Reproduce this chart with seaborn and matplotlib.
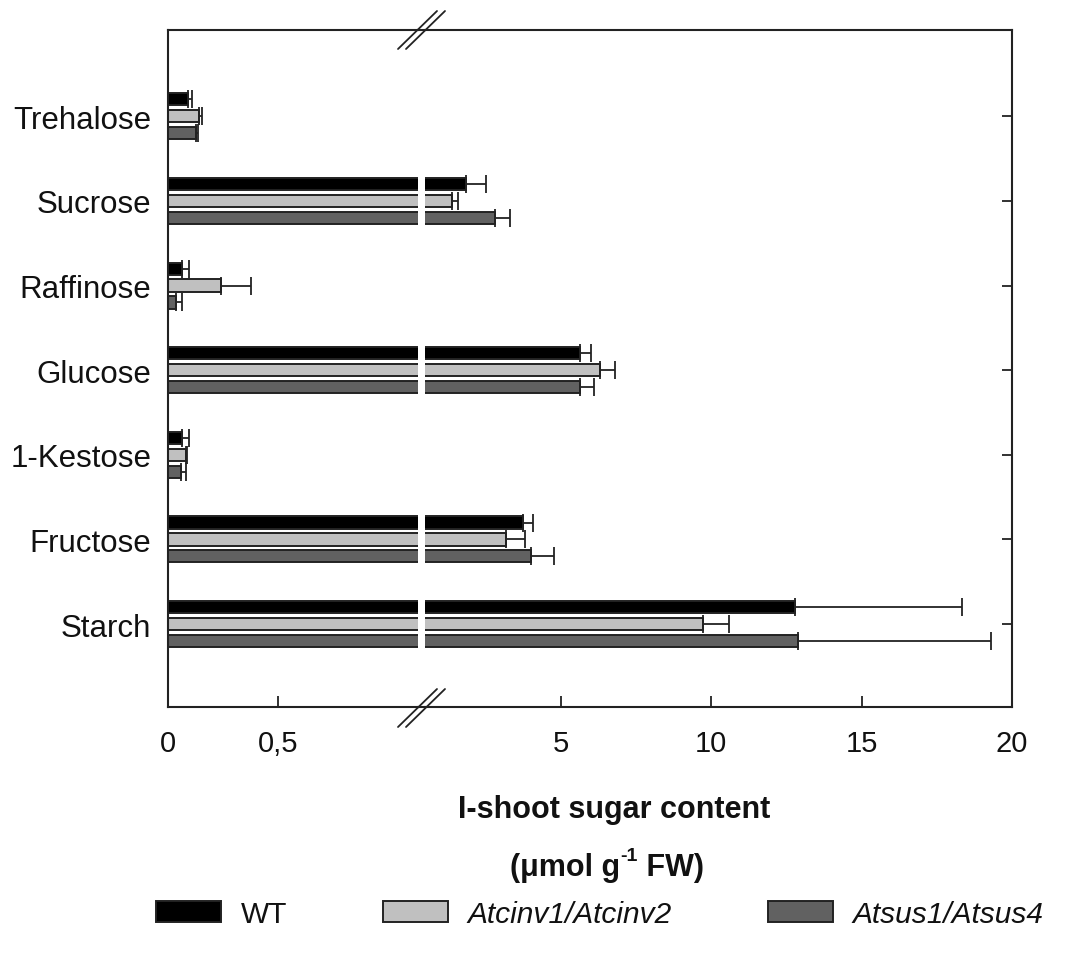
import numpy as np
import pandas as pd
import matplotlib
matplotlib.use("Agg")
import matplotlib.pyplot as plt
import seaborn as sns
from matplotlib.lines import Line2D

# ---------------- data ----------------
sugars = ["Trehalose", "Sucrose", "Raffinose", "Glucose", "1-Kestose", "Fructose", "Starch"]
genotypes = ["WT", "Atcinv1/Atcinv2", "Atsus1/Atsus4"]

wt_mean = [0.09, 1.86, 0.062, 5.64, 0.064, 3.74, 12.79]
wt_err = [0.02, 0.66, 0.035, 0.38, 0.03, 0.36, 5.56]
cinv_mean = [0.14, 1.41, 0.238, 6.30, 0.082, 3.19, 9.73]
cinv_err = [0.016, 0.20, 0.139, 0.51, 0.004, 0.64, 0.87]
sus_mean = [0.126, 2.81, 0.036, 5.66, 0.058, 4.02, 12.90]
sus_err = [0.009, 0.52, 0.028, 0.44, 0.024, 0.78, 6.41]

left_ticks = [0, 0.5]
left_ticklabels = ["0", "0,5"]
right_ticks = [5, 10, 15, 20]
right_ticklabels = ["5", "10", "15", "20"]

means = [wt_mean, cinv_mean, sus_mean]
errs = [wt_err, cinv_err, sus_err]

df = pd.DataFrame({
    "sugar": sugars * 3,
    "genotype": np.repeat(genotypes, len(sugars)),
    "value": wt_mean + cinv_mean + sus_mean,
})

colors = {"WT": "#000000", "Atcinv1/Atcinv2": "#c0c0c0", "Atsus1/Atsus4": "#616161"}
edge = "#222222"
txt = "#111111"

# ---------------- figure ----------------
sns.set_theme(style="white")
plt.rcParams["font.family"] = ["Liberation Sans", "DejaVu Sans"]

W, H = 1065, 962
fig = plt.figure(figsize=(W / 100, H / 100), dpi=100)


def fx(px):
    return px / W


def fy(py):
    return 1 - py / H


axL = fig.add_axes([fx(168), fy(708), fx(418) - fx(168), fy(31) - fy(708)])
axR = fig.add_axes([fx(425), fy(708), fx(1012) - fx(425), fy(31) - fy(708)])

for ax in (axL, axR):
    sns.barplot(data=df, y="sugar", x="value", hue="genotype", order=sugars,
                hue_order=genotypes, palette=colors, orient="h", width=0.6, gap=0.28,
                errorbar=None, edgecolor=edge, linewidth=1.4,
                legend=(ax is axL), ax=ax)
    conts = list(ax.containers)[:3]
    for cont, e in zip(conts, errs):
        ys = [p.get_y() + p.get_height() / 2 for p in cont]
        xs = [p.get_width() for p in cont]
        ax.errorbar(xs, ys, xerr=[np.zeros(len(e)), e], fmt="none", ecolor=edge,
                    elinewidth=1.3, capsize=6.5, capthick=1.3, zorder=3)
    ax.set_ylim(6.98, -1.02)
    ax.set_xlabel("")
    ax.set_ylabel("")
    for s in ax.spines.values():
        s.set_linewidth(1.5)
        s.set_color(edge)

axL.set_xlim(0, 250 / 220.6)
axR.set_xlim(20 - 587 / 30.1, 20)
axL.spines["right"].set_visible(False)
axR.spines["left"].set_visible(False)

axL.set_xticks(left_ticks)
axL.set_xticklabels(left_ticklabels)
axR.set_xticks(right_ticks)
axR.set_xticklabels(right_ticklabels)

for ax in (axL, axR):
    ax.tick_params(axis="x", bottom=True, top=False, direction="in", length=8,
                   width=1.3, color=edge, labelsize=21, pad=16, labelcolor=txt)
axL.tick_params(axis="y", left=False, right=False, length=0, labelsize=22.5, pad=12,
                labelcolor=txt)
axR.tick_params(axis="y", left=False, right=True, direction="in", length=7, width=1.3,
                color=edge, labelleft=False, labelright=False)

# continuous frame across the break
for yy in (31, 708):
    fig.add_artist(Line2D([fx(417), fx(426)], [fy(yy), fy(yy)], color=edge, lw=1.5))
# break marks
for yc in (31, 709):
    for dx in (0, 8):
        fig.add_artist(Line2D([fx(398 + dx), fx(437 + dx)], [fy(yc + 19), fy(yc - 19)],
                              color=edge, lw=1.3))

# axis title
fig.text(fx(614), fy(810), "I-shoot sugar content", ha="center", va="center",
         fontsize=22, fontweight="bold", color=txt)

# second line with a superscript, built from three text pieces
renderer = fig.canvas.get_renderer()
pieces = [("(μmol g", 22, 0), ("-1", 14, 11), (" FW)", 22, 0)]
arts = []
for s, fs, dy in pieces:
    t = fig.text(0, fy(868 - dy), s, ha="left", va="center", fontsize=fs,
                 fontweight="bold", color=txt)
    arts.append(t)
widths = [a.get_window_extent(renderer).width for a in arts]
x0 = 607 - sum(widths) / 2
for a, w in zip(arts, widths):
    a.set_x(fx(x0))
    x0 += w

# legend
handles, labels = axL.get_legend_handles_labels()
if axL.get_legend() is not None:
    axL.get_legend().remove()
leg = fig.legend(handles, labels, loc="center", bbox_to_anchor=(fx(600), fy(915)),
                 ncol=3, frameon=False, fontsize=21.5, handlelength=2.17, handleheight=0.66,
                 handletextpad=0.67, columnspacing=3.2)
for t in leg.get_texts()[1:]:
    t.set_style("italic")
for t in leg.get_texts():
    t.set_color(txt)

fig.savefig("out.png", dpi=100)
